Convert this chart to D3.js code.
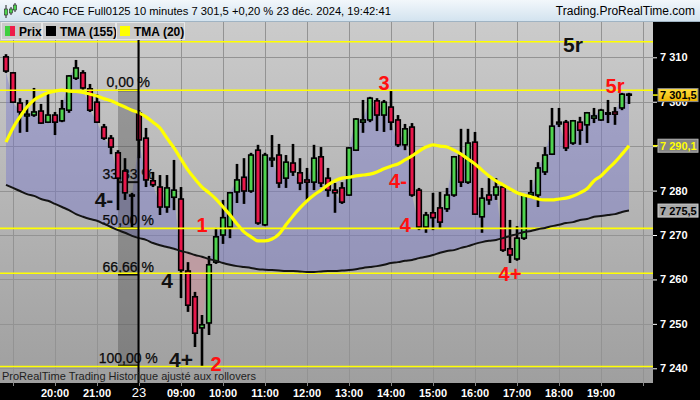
<!DOCTYPE html>
<html><head><meta charset="utf-8">
<script src="https://cdn.jsdelivr.net/npm/d3@7"></script>
<style>
body{margin:0;background:#000;}
svg{display:block;}
text{font-family:"Liberation Sans",Arial,sans-serif;}
</style>
</head><body>
<svg id="c" width="700" height="400"></svg>
<script>
// ---------------- DATA ----------------
const times = [
"20 18:50","20 19:00","20 19:10","20 19:20","20 19:30","20 19:40","20 19:50","20 20:00","20 20:10","20 20:20","20 20:30","20 20:40","20 20:50","20 21:00","20 21:10","20 21:20","20 21:30","20 21:40","20 21:50",
"23 08:00","23 08:10","23 08:20","23 08:30","23 08:40","23 08:50","23 09:00","23 09:10","23 09:20","23 09:30","23 09:40","23 09:50",
"23 10:00","23 10:10","23 10:20","23 10:30","23 10:40","23 10:50","23 11:00","23 11:10","23 11:20","23 11:30","23 11:40","23 11:50",
"23 12:00","23 12:10","23 12:20","23 12:30","23 12:40","23 12:50","23 13:00","23 13:10","23 13:20","23 13:30","23 13:40","23 13:50",
"23 14:00","23 14:10","23 14:20","23 14:30","23 14:40","23 14:50","23 15:00","23 15:10","23 15:20","23 15:30","23 15:40","23 15:50",
"23 16:00","23 16:10","23 16:20","23 16:30","23 16:40","23 16:50","23 17:00","23 17:10","23 17:20","23 17:30","23 17:40","23 17:50",
"23 18:00","23 18:10","23 18:20","23 18:30","23 18:40","23 18:50","23 19:00","23 19:10","23 19:20","23 19:30","23 19:40"];

const open = [7310.1,7306.5,7299.7,7296.8,7297.0,7297.9,7295.4,7297.0,7295.7,7298.1,7305.3,7306.5,7302.9,7299.9,7294.3,7291.8,7288.5,7284.4,7278.8,
7297.5,7291.8,7282.2,7280.8,7276.3,7278.5,7278.1,7261.9,7256.1,7249.1,7250.2,
7263.9,7270.0,7271.8,7279.7,7283.0,7279.9,7289.1,7272.3,7286.9,7288.0,
7282.8,7286.2,7284.0,7282.4,7281.9,7287.6,7282.8,7280.1,7280.6,7279.0,
7289.1,7295.4,7295.9,7300.2,7297.0,7298.8,7295.9,7290.3,7294.3,7280.1,
7271.8,7275.0,7276.1,7275.9,7279.0,7288.0,7281.9,7290.9,7274.1,7279.0,
7279.0,7280.8,7266.9,7264.6,7269.3,7279.0,7279.0,7284.2,7288.2,7295.0,
7295.4,7290.7,7295.4,7294.8,7296.3,7295.9,7297.2,7297.7,7298.6,7301.7];

const high = [7310.7,7306.7,7300.8,7300.4,7303.1,7299.5,7302.2,7297.7,7300.4,7306.0,7309.4,7307.1,7304.0,7301.7,7295.0,7292.5,7289.1,7287.3,7279.5,
7298.1,7294.1,7284.2,7283.5,7283.5,7286.9,7280.8,7263.9,7257.2,7252.0,7265.3,
7271.6,7277.9,7279.7,7286.0,7287.3,7288.5,7290.3,7288.5,7292.5,7290.5,
7288.0,7290.5,7287.3,7285.1,7290.3,7289.8,7285.1,7281.7,7281.9,7289.8,
7296.3,7300.4,7301.1,7300.8,7300.4,7302.4,7297.0,7295.0,7295.2,7280.6,
7275.2,7279.5,7279.7,7280.6,7287.8,7293.9,7293.9,7293.2,7280.6,7282.8,
7282.8,7281.3,7273.4,7272.0,7279.2,7282.4,7286.4,7289.8,7298.6,7298.6,
7295.9,7295.9,7296.6,7297.7,7298.6,7298.4,7300.4,7298.8,7302.0,7302.0];

const low = [7306.5,7299.7,7293.0,7293.2,7296.6,7295.0,7295.2,7292.5,7295.4,7297.5,7304.9,7302.6,7297.7,7295.2,7291.4,7288.2,7275.6,7277.9,7271.8,
7287.3,7280.8,7280.8,7274.5,7275.0,7275.6,7255.8,7252.7,7244.8,7240.5,7247.5,
7263.5,7268.0,7269.3,7277.2,7277.0,7279.5,7272.3,7272.0,7285.3,7280.6,
7280.6,7283.3,7280.1,7277.9,7280.1,7280.8,7278.6,7275.0,7277.0,7278.8,
7288.9,7293.0,7295.4,7293.4,7293.2,7293.6,7289.8,7289.1,7278.6,7271.1,
7270.5,7271.1,7271.6,7275.2,7278.6,7280.8,7281.5,7274.5,7270.5,7276.8,
7277.9,7266.2,7263.7,7264.2,7268.9,7278.6,7276.3,7283.5,7288.0,7294.3,
7288.9,7290.3,7290.3,7290.7,7295.2,7295.7,7295.2,7294.8,7298.1,7299.5];

const close = [7306.9,7299.9,7297.7,7297.2,7297.7,7295.2,7297.0,7295.4,7298.4,7305.8,7307.6,7303.1,7298.1,7295.4,7291.8,7289.8,7282.8,7279.5,7279.0,
7291.4,7282.4,7281.3,7276.3,7280.6,7280.1,7262.1,7254.2,7247.9,7249.8,7263.3,
7269.6,7273.9,7279.5,7282.4,7279.9,7288.0,7272.7,7288.0,7287.3,7281.7,
7286.4,7284.2,7281.7,7281.9,7287.3,7281.7,7280.1,7279.5,7277.4,7289.6,
7296.1,7295.9,7300.8,7297.0,7299.9,7295.4,7290.3,7293.9,7279.0,7271.8,
7274.5,7273.9,7272.9,7279.0,7287.6,7281.9,7290.7,7274.7,7278.3,7277.9,
7280.8,7266.6,7265.5,7269.3,7279.0,7279.5,7285.1,7288.0,7294.5,7295.4,
7289.6,7295.7,7293.6,7297.5,7296.8,7298.1,7297.5,7297.2,7301.7,7301.5];

const tma155 = [7281.3,7280.6,7279.9,7279.2,7278.8,7278.1,7277.7,7277.0,7276.3,7275.6,7274.7,7274.1,7273.6,7273.2,7272.5,7271.8,7271.1,7270.5,7269.8,
7269.3,7268.9,7268.2,7267.7,7267.3,7266.9,7266.4,7266.0,7265.5,7265.1,7264.6,
7264.2,7263.7,7263.3,7263.0,7262.8,7262.6,7262.3,7262.2,7262.1,7262.0,
7261.9,7261.9,7261.8,7261.7,7261.7,7261.8,7261.9,7261.9,7262.0,7262.1,
7262.3,7262.6,7262.8,7263.0,7263.3,7263.7,7263.9,7264.2,7264.4,7264.8,
7265.1,7265.5,7266.0,7266.4,7266.6,7267.1,7267.5,7268.0,7268.4,7268.7,
7268.9,7269.3,7269.8,7270.2,7270.7,7270.9,7271.3,7271.6,7272.0,7272.3,
7272.7,7272.9,7273.4,7273.6,7274.1,7274.3,7274.5,7274.7,7275.2,7275.5];

const tma20 = [7290.9,7294.1,7296.6,7298.8,7300.4,7301.3,7302.0,7302.4,7302.6,7302.4,7302.3,7302.1,7301.7,7301.3,7300.7,7300.2,7299.5,7298.8,7298.1,
7297.5,7296.6,7295.4,7294.1,7291.8,7289.6,7287.1,7284.6,7282.6,7280.8,7279.5,
7278.1,7276.3,7274.5,7272.5,7270.7,7269.6,7268.7,7268.7,7269.1,7270.2,
7272.3,7274.3,7276.1,7277.7,7279.0,7280.1,7281.3,7282.2,7282.8,7283.0,
7283.3,7283.5,7283.7,7284.2,7284.9,7285.5,7286.0,7286.9,7287.8,7288.9,
7289.8,7290.3,7290.0,7289.8,7289.1,7288.2,7287.1,7286.0,7284.6,7283.3,
7282.2,7281.3,7280.4,7279.5,7279.0,7278.6,7278.1,7277.9,7277.9,7278.1,
7278.3,7278.8,7279.5,7280.4,7282.2,7283.3,7284.9,7286.4,7288.2,7290.1];

const yTicks = [7240,7250,7260,7270,7280,7290,7300,7310];
const tickCats = ["20 20:00","20 21:00","23 08:00","23 09:00","23 10:00","23 11:00","23 12:00","23 13:00","23 14:00","23 15:00","23 16:00","23 17:00","23 18:00","23 19:00"];
const tickLabels = ["20:00","21:00","23","09:00","10:00","11:00","12:00","13:00","14:00","15:00","16:00","17:00","18:00","19:00"];
const dayStartCat = "23 08:00";

const hLevels = [7313.5, 7302.6, 7271.5, 7261.4, 7240.4];
const fibLabels = ["0,00 %","33,33 %","50,00 %","66,66 %","100,00 %"];
const fibValues = [7302.6, 7281.9, 7271.5, 7261.1, 7240.6];
const fibFromCat = "20 21:30", fibToCat = "23 08:00";

const annoText  = ["1","2","3","4-","4","4+","5r","5r","4-","4","4+"];
const annoCat   = ["23 09:30","23 09:50","23 13:50","23 14:10","23 14:20","23 16:50","23 19:20","23 18:20","20 21:10","23 08:40","23 09:00"];
const annoValue = [7270.7,7239.4,7302.6,7280.6,7270.7,7259.6,7302.0,7311.2,7276.3,7258.1,7240.3];
const annoRed   = [true,true,true,true,true,true,true,false,false,false,false];

const headerText = "CAC40 FCE Full0125 10 minutes 7 301,5 +0,20 % 23 déc. 2024, 19:42:41";
const siteText = "Trading.ProRealTime.com";
const footText = "ProRealTime Trading  Historique ajusté aux rollovers";
const legendNames = ["Prix","TMA (155)","TMA (20)"];

// ---------------- LAYOUT ----------------
const W=700,H=400, plotL=0, plotR=653, plotT=22, plotB=383;
const barStep=7, firstX=6;
const GREEN="#4fd34f", RED="#e8174b";
const svg=d3.select("#c");
const defs=svg.append("defs");

const n=times.length;
const x=d3.scaleLinear().domain([0,n-1]).range([firstX, firstX+barStep*(n-1)]);
const y=d3.scaleLinear().domain([7240,7310]).range([368.3,57.3]);
const xi = c => x(times.indexOf(c));

// gradients
const g1=defs.append("linearGradient").attr("id","bg").attr("x1",0).attr("y1",0).attr("x2",0).attr("y2",1);
g1.append("stop").attr("offset","0%").attr("stop-color","#cbcbcb");
g1.append("stop").attr("offset","100%").attr("stop-color","#9f9f9f");
const g2=defs.append("linearGradient").attr("id","hd").attr("x1",0).attr("y1",0).attr("x2",0).attr("y2",1);
g2.append("stop").attr("offset","0%").attr("stop-color","#f2f7fb");
g2.append("stop").attr("offset","100%").attr("stop-color","#d3e3ef");
const g3=defs.append("linearGradient").attr("id","gold").attr("x1",0).attr("y1",0).attr("x2",0).attr("y2",1);
g3.append("stop").attr("offset","0%").attr("stop-color","#ffe040");
g3.append("stop").attr("offset","100%").attr("stop-color","#f0b400");

defs.append("clipPath").attr("id","plotclip").append("rect")
  .attr("x",plotL).attr("y",plotT).attr("width",plotR-plotL).attr("height",plotB-plotT);

// black canvas
svg.append("rect").attr("width",W).attr("height",H).attr("fill","#000");
// plot bg
svg.append("rect").attr("x",plotL).attr("y",plotT).attr("width",plotR-plotL).attr("height",plotB-plotT).attr("fill","url(#bg)");

const plot=svg.append("g").attr("clip-path","url(#plotclip)");

// grid
plot.selectAll(".hg").data(yTicks).join("line")
  .attr("x1",plotL).attr("x2",plotR).attr("y1",d=>Math.round(y(d))+0.5).attr("y2",d=>Math.round(y(d))+0.5)
  .attr("stroke","#939393").attr("stroke-width",1);
const hourIdx = times.map((t,i)=>t.endsWith(":00")?i:-1).filter(i=>i>=0);
const gridX = hourIdx.map(i=>x(i));
gridX.push(x(hourIdx[hourIdx.length-1]+6));
plot.selectAll(".vg").data(gridX).join("line")
  .attr("x1",d=>Math.round(d)+0.5).attr("x2",d=>Math.round(d)+0.5).attr("y1",plotT).attr("y2",plotB)
  .attr("stroke","#939393").attr("stroke-width",1);

// cloud between close and TMA155
const idx=d3.range(n);
const topLine = d3.area().x(i=>x(i)).y0(plotT).y1(i=>y(tma155[i]));
const botLine = d3.area().x(i=>x(i)).y0(plotB).y1(i=>y(tma155[i]));
defs.append("clipPath").attr("id","above").append("path").attr("d",topLine(idx));
defs.append("clipPath").attr("id","below").append("path").attr("d",botLine(idx));
const cloud = d3.area().x(i=>x(i)).y0(i=>y(tma155[i])).y1(i=>y(close[i]));
plot.append("path").attr("d",cloud(idx)).attr("fill","rgba(112,112,205,0.40)").attr("clip-path","url(#above)");
plot.append("path").attr("d",cloud(idx)).attr("fill","rgba(225,120,140,0.33)").attr("clip-path","url(#below)");

// fib box
const fx0=xi(fibFromCat), fx1=xi(fibToCat)-0.5;
plot.append("rect").attr("x",fx0).attr("y",y(fibValues[0])).attr("width",fx1-fx0)
  .attr("height",y(fibValues[fibValues.length-1])-y(fibValues[0])).attr("fill","rgba(50,50,50,0.3)");
plot.selectAll(".fl").data(fibValues).join("line")
  .attr("x1",fx0).attr("x2",fx1).attr("y1",d=>y(d)).attr("y2",d=>y(d)).attr("stroke","#111").attr("stroke-width",2);
plot.selectAll(".ft").data(fibLabels).join("text")
  .attr("x",(fx0+fx1)/2).attr("y",(d,i)=>y(fibValues[i])-3).attr("text-anchor","middle")
  .attr("font-size",14).attr("fill","#0a0a0a").attr("stroke","#0a0a0a").attr("stroke-width",0.25).text(d=>d);

// day separator
const sepX = xi(dayStartCat)-0.5;
svg.append("line").attr("x1",sepX).attr("x2",sepX).attr("y1",plotT).attr("y2",plotB).attr("stroke","#000").attr("stroke-width",2);

// candles
const cg=plot.append("g");
idx.forEach(i=>{
  const cx=x(i);
  cg.append("line").attr("x1",cx).attr("x2",cx).attr("y1",y(high[i])).attr("y2",y(low[i]))
    .attr("stroke","#000").attr("stroke-width",2.6);
  const yt=y(Math.max(open[i],close[i])), yb=y(Math.min(open[i],close[i]));
  cg.append("rect").attr("x",cx-2.3).attr("width",4.6).attr("y",yt).attr("height",Math.max(yb-yt,1))
    .attr("fill",close[i]>=open[i]?GREEN:RED).attr("stroke","#000").attr("stroke-width",1.6);
});

// horizontal yellow levels
plot.selectAll(".hl").data(hLevels).join("line")
  .attr("x1",plotL).attr("x2",plotR).attr("y1",d=>y(d)).attr("y2",d=>y(d))
  .attr("stroke","#ffff00").attr("stroke-width",1.6);

// TMA lines
const ln = arr => d3.line().x(i=>x(i)).y(i=>y(arr[i])).curve(d3.curveMonotoneX)(idx);
plot.append("path").attr("d",ln(tma155)).attr("fill","none").attr("stroke","#141414").attr("stroke-width",2);
plot.append("path").attr("d",ln(tma20)).attr("fill","none").attr("stroke","#ffff00").attr("stroke-width",3.2);

// annotations
plot.selectAll(".an").data(annoText).join("text")
  .attr("x",(d,i)=>xi(annoCat[i])).attr("y",(d,i)=>y(annoValue[i]))
  .attr("text-anchor","middle").attr("font-weight","bold")
  .attr("font-size",(d,i)=>annoRed[i]?20:21)
  .attr("fill",(d,i)=>annoRed[i]?"#ff1010":"#111").text(d=>d);

// footer text in plot
svg.append("text").attr("x",2).attr("y",380).attr("font-size",11).attr("fill","#1e1e1e").text(footText);

// right axis
const fmt=d3.formatLocale({decimal:",",thousands:"\u00a0",grouping:[3],currency:["",""]});
const f0=fmt.format(",.0f"), f1=fmt.format(",.1f");
const ax=svg.append("g").attr("transform",`translate(${plotR},0)`)
  .call(d3.axisRight(y).tickValues(yTicks).tickFormat(f0).tickSize(4).tickPadding(3));
ax.select(".domain").remove();
ax.selectAll("line").attr("stroke","#fff");
ax.selectAll("text").attr("fill","#fff").attr("font-size",11).attr("font-weight","bold")
  .attr("font-family","'Liberation Sans',Arial,sans-serif");

// value boxes
const boxes=[
  {v:close[n-1], fill:"url(#gold)", stroke:"#8a8a8a", tc:"#000", tick:"#ffff00"},
  {v:tma20[n-1], fill:"#858585", stroke:"#b5b5b5", tc:"#ffff00", tick:"#ffff00"},
  {v:tma155[n-1], fill:"#a9a9a9", stroke:"#cfcfcf", tc:"#000", tick:"#000"}
];
boxes.forEach(b=>{
  const yy=y(b.v);
  svg.append("line").attr("x1",plotR).attr("x2",plotR+5).attr("y1",yy).attr("y2",yy).attr("stroke",b.tick).attr("stroke-width",1.5);
  svg.append("rect").attr("x",plotR+5).attr("y",yy-6.5).attr("width",40).attr("height",13).attr("fill",b.fill).attr("stroke",b.stroke);
  svg.append("text").attr("x",plotR+7).attr("y",yy+4.3).attr("font-size",11).attr("font-weight","bold").attr("fill",b.tc).text(f1(b.v));
});

// bottom axis
svg.append("rect").attr("x",0).attr("y",plotB).attr("width",W).attr("height",H-plotB).attr("fill","#000");
svg.selectAll(".bt").data(gridX).join("line")
  .attr("x1",d=>Math.round(d)+0.5).attr("x2",d=>Math.round(d)+0.5).attr("y1",plotB).attr("y2",plotB+3).attr("stroke","#888");
svg.selectAll(".bl").data(tickLabels).join("text")
  .attr("x",(d,i)=>xi(tickCats[i])).attr("y",397).attr("text-anchor","middle")
  .attr("font-size",d=>d.length<3?13:11).attr("font-weight",d=>d.length<3?"normal":"bold")
  .attr("fill","#fff").text(d=>d);

// header
svg.append("rect").attr("x",0).attr("y",0).attr("width",W).attr("height",21).attr("fill","url(#hd)");
svg.append("line").attr("x1",0).attr("x2",W).attr("y1",21.5).attr("y2",21.5).attr("stroke","#9fb3c3");
const ic=svg.append("g");
[[6,5,18,9,15,GREEN],[11,7,15,9,13,GREEN],[15,3,12,5,10,GREEN]].forEach(c=>{
  ic.append("line").attr("x1",c[0]).attr("x2",c[0]).attr("y1",c[1]).attr("y2",c[2]).attr("stroke","#222").attr("stroke-width",1);
  ic.append("rect").attr("x",c[0]-1.5).attr("y",c[3]).attr("width",3).attr("height",c[4]-c[3]).attr("fill",c[5]).attr("stroke","#222").attr("stroke-width",0.6);
});
svg.append("text").attr("x",23).attr("y",15).attr("font-size",11.2).attr("fill","#000").text(headerText);
svg.append("text").attr("x",695).attr("y",15).attr("text-anchor","end").attr("font-size",12).attr("fill","#000").text(siteText);

// legend tabs
const tabs=[{x:1,w:40},{x:42,w:73},{x:116,w:68}];
const tabIcon=[null,"#000","#ffff00"];
tabs.forEach((t,i)=>{
  svg.append("rect").attr("x",t.x+0.5).attr("y",22.5).attr("width",t.w).attr("height",17).attr("fill","#cacaca").attr("stroke","#e6e6e6");
  if(i===0){
    svg.append("rect").attr("x",t.x+4).attr("y",26).attr("width",5).attr("height",10).attr("fill","#3ecf3e");
    svg.append("rect").attr("x",t.x+9).attr("y",26).attr("width",5).attr("height",10).attr("fill","#ee1c48");
  } else {
    svg.append("rect").attr("x",t.x+4).attr("y",26).attr("width",10).attr("height",10).attr("fill",tabIcon[i]);
  }
  svg.append("text").attr("x",t.x+18).attr("y",35.5).attr("font-size",12).attr("font-weight","bold").attr("fill","#000").text(legendNames[i]);
});
</script>
</body></html>
